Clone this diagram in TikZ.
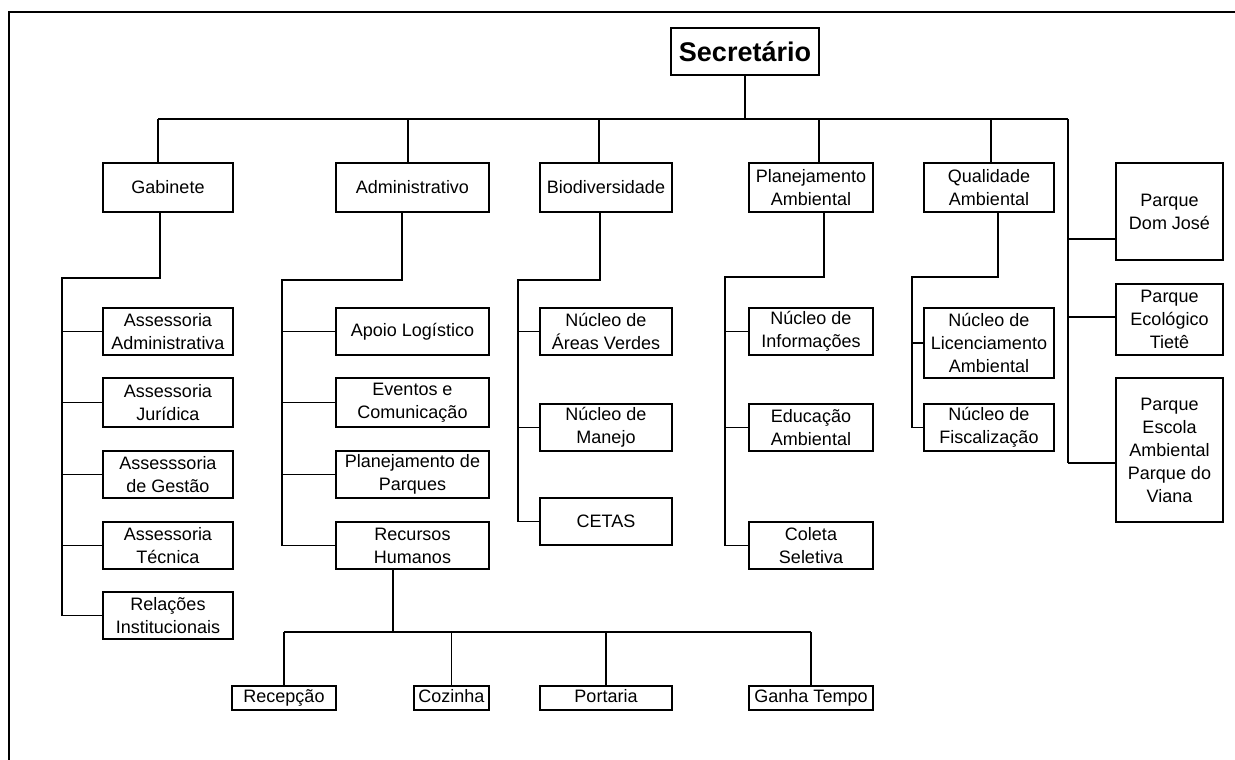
\documentclass[tikz,border=0pt]{standalone}
\usepackage{fontspec}
\setmainfont{Liberation Sans}

\begin{document}
\begin{tikzpicture}[x=1pt,y=-1pt,
	box/.style={draw, line width=1.6pt, inner sep=0pt, align=center, minimum height=47pt, font=\fontsize{18}{23}\selectfont},
	small/.style={box, minimum height=24pt, text height=13pt, text depth=4pt},
	link/.style={line width=1.6pt}]
	\useasboundingbox (0,0) rectangle (1235,760);
	\draw[link] (9,760)--(9,12)--(1235,12);
	
	\node[box, minimum width=148pt, font=\fontsize{27}{30}\selectfont\bfseries] (sec) at (745,51.5) {Secretário};
	
	% first level
	\node[box, minimum width=130pt, minimum height=49pt] (gab) at (168,187.5) {Gabinete};
	\node[box, minimum width=153pt, minimum height=49pt] (adm) at (412.5,187.5) {Administrativo};
	\node[box, minimum width=132pt, minimum height=49pt] (bio) at (606,187.5) {Biodiversidade};
	\node[box, minimum width=124pt, minimum height=49pt] (plan) at (811,187.5) {Planejamento\\Ambiental};
	\node[box, minimum width=130pt, minimum height=49pt] (qual) at (989,187.5) {Qualidade\\Ambiental};
	\node[box, minimum width=107pt, minimum height=97pt] (pdj) at (1169.5,211.5) {Parque\\Dom José};
	\node[box, minimum width=107pt, minimum height=71pt] (pet) at (1169.5,319.5) {Parque\\Ecológico\\Tietê};
	\node[box, minimum width=107pt, minimum height=144pt] (pev) at (1169.5,450) {Parque\\Escola\\Ambiental\\Parque do\\Viana};
	
	% Gabinete
	\node[box, minimum width=130pt] (aadm) at (168,331.5) {Assessoria\\Administrativa};
	\node[box, minimum width=130pt, minimum height=49pt] (ajur) at (168,402.5) {Assessoria\\Jurídica};
	\node[box, minimum width=130pt] (ages) at (168,474.5) {Assesssoria\\de Gestão};
	\node[box, minimum width=130pt] (atec) at (168,545.5) {Assessoria\\Técnica};
	\node[box, minimum width=130pt] (rel) at (168,615.5) {Relações\\Institucionais};
	
	% Administrativo
	\node[box, minimum width=153pt] (apoio) at (412.5,331.5) {Apoio Logístico};
	\node[box, minimum width=153pt, minimum height=49pt] (even) at (412.5,402.5) {Eventos e\\Comunicação};
	\node[box, minimum width=153pt] (pparq) at (412.5,474.5) {Planejamento de\\Parques};
	\node[box, minimum width=153pt] (rh) at (412.5,545.5) {Recursos\\Humanos};
	
	\node[small, minimum width=104pt] (rec) at (284,698) {Recepção};
	\node[small, minimum width=75pt] (coz) at (451.5,698) {Cozinha};
	\node[small, minimum width=132pt] (port) at (606,698) {Portaria};
	\node[small, minimum width=124pt] (ganha) at (811,698) {Ganha Tempo};
	
	% Biodiversidade
	\node[box, minimum width=132pt] (nav) at (606,331.5) {Núcleo de\\Áreas Verdes};
	\node[box, minimum width=132pt] (nman) at (606,427.5) {Núcleo de\\Manejo};
	\node[box, minimum width=132pt] (cetas) at (606,521.5) {CETAS};
	
	% Planejamento Ambiental
	\node[box, minimum width=124pt] (ninf) at (811,331.5) {Núcleo de\\Informações};
	\node[box, minimum width=124pt] (edu) at (811,427.5) {Educação\\Ambiental};
	\node[box, minimum width=124pt] (col) at (811,545.5) {Coleta\\Seletiva};
	
	% Qualidade Ambiental
	\node[box, minimum width=130pt, minimum height=70pt] (nlic) at (989,343) {Núcleo de\\Licenciamento\\Ambiental};
	\node[box, minimum width=130pt] (nfis) at (989,427.5) {Núcleo de\\Fiscalização};
	
	% connectors
	\coordinate (bus0) at (158,119);
	\coordinate (bus1) at (1068,119);
	\draw[link] (sec.south)--(sec.south |- bus0);
	\draw[link] (bus0)--(bus1);
	\foreach \x/\n in {158/gab,408/adm,599/bio,819/plan,991/qual}{
		\coordinate (t\n) at (\x,119);
		\draw[link] (t\n)--(t\n |- \n.north);
	}
	
	\coordinate (gk) at (160,278); \coordinate (gt) at (62,278);
	\draw[link] (gk |- gab.south)--(gk)--(gt)--(gt |- rel.west);
	\foreach \n in {aadm,ajur,ages,atec,rel}
		\draw[link] (gt |- \n.west)--(\n.west);
	
	\coordinate (ak) at (402,280); \coordinate (at) at (282,280);
	\draw[link] (ak |- adm.south)--(ak)--(at)--(at |- rh.west);
	\foreach \n in {apoio,even,pparq,rh}
		\draw[link] (at |- \n.west)--(\n.west);
	
	\coordinate (bk) at (600,280); \coordinate (bt) at (518,280);
	\draw[link] (bk |- bio.south)--(bk)--(bt)--(bt |- cetas.west);
	\foreach \n in {nav,nman,cetas}
		\draw[link] (bt |- \n.west)--(\n.west);
	
	\coordinate (pk) at (824,277); \coordinate (pt) at (725,277);
	\draw[link] (pk |- plan.south)--(pk)--(pt)--(pt |- col.west);
	\foreach \n in {ninf,edu,col}
		\draw[link] (pt |- \n.west)--(\n.west);
	
	\coordinate (qk) at (998,277); \coordinate (qt) at (912,277);
	\draw[link] (qk |- qual.south)--(qk)--(qt)--(qt |- nfis.west);
	\foreach \n in {nlic,nfis}
		\draw[link] (qt |- \n.west)--(\n.west);
	
	\coordinate (pc1) at ([yshift=-27.5pt]pdj.west);
	\coordinate (pc2) at ([yshift=2.5pt]pet.west);
	\coordinate (pc3) at ([yshift=-13pt]pev.west);
	\draw[link] (bus1)--(bus1 |- pc3);
	\foreach \n in {pc1,pc2,pc3}
		\draw[link] (bus1 |- \n)--(\n);
	
	\coordinate (rk) at (393,632);
	\draw[link] (rk |- rh.south)--(rk);
	\draw[link] (rec.north |- rk)--(ganha.north |- rk);
	\foreach \n in {rec,coz,port,ganha}
		\draw[link] (\n.north |- rk)--(\n.north);
\end{tikzpicture}
\end{document}
